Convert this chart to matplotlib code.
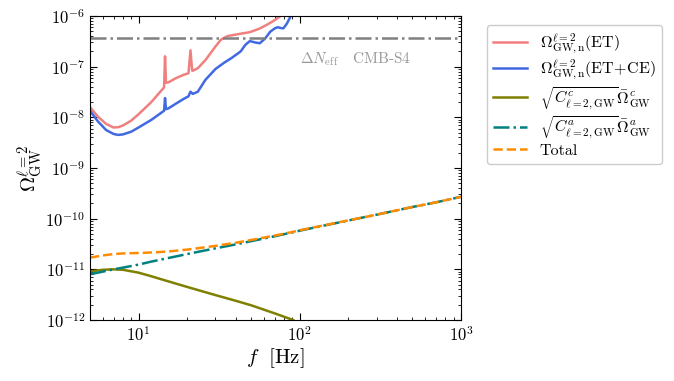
import matplotlib
matplotlib.use("Agg")
import matplotlib.pyplot as plt

plt.rcParams['font.family'] = ['cmr10', 'DejaVu Serif']
plt.rcParams['mathtext.fontset'] = 'cm'
plt.rcParams['axes.formatter.use_mathtext'] = True

# ET noise curve
f_et = [5, 5.6, 6.3, 7.0, 7.5, 8.0, 9.0, 10, 12, 14.4, 14.6, 14.8, 15.3, 17, 19, 20.4, 21.0, 21.5, 21.7, 23.3,
        26, 27.8, 30, 32.4, 35.5, 40, 49, 56, 62.5, 70, 76]
om_et = [1.6e-8, 1.03e-8, 7.4e-9, 6.3e-9, 6.4e-9, 6.9e-9, 8.6e-9, 1.15e-8, 2.0e-8, 3.9e-8, 1.6e-7, 4.8e-8, 4.9e-8,
         5.9e-8, 6.9e-8, 7.4e-8, 2.1e-7, 8.4e-8, 8.3e-8, 9.3e-8,
         1.35e-7, 1.8e-7, 2.5e-7, 3.4e-7, 4.0e-7, 4.3e-7, 4.8e-7, 5.6e-7, 6.7e-7, 8.3e-7, 1.0e-6]

# ET+CE noise curve
f_etce = [5, 5.6, 6.3, 7.0, 7.45, 8.0, 9.0, 10, 12, 14.4, 14.6, 14.8, 15.3, 17, 19, 20.4, 21.0, 21.7, 23.3,
          26, 30, 34, 37.6, 43, 46, 49, 53, 56.5, 61, 65.6, 70, 73, 76, 79, 83, 88]
om_etce = [1.35e-8, 8.3e-9, 5.6e-9, 4.7e-9, 4.5e-9, 4.6e-9, 5.2e-9, 6.3e-9, 8.9e-9, 1.35e-8, 2.4e-8, 1.45e-8, 1.5e-8,
           1.85e-8, 2.3e-8, 2.6e-8, 3.2e-8, 2.9e-8, 3.2e-8,
           5.5e-8, 9.0e-8, 1.2e-7, 1.47e-7, 2.0e-7, 2.7e-7, 3.2e-7, 3.0e-7, 2.9e-7, 3.6e-7, 4.9e-7, 5.7e-7, 6.0e-7,
           5.8e-7, 5.7e-7, 7.0e-7, 1.0e-6]

# signal components
f_sig = [5, 6, 7, 8, 10, 12, 15, 20, 30, 40, 50, 70, 91, 100, 200, 300, 500, 700, 1000]
om_c = [9.1e-12, 9.8e-12, 1.0e-11, 9.8e-12, 8.6e-12, 7.3e-12, 5.9e-12, 4.5e-12, 3.1e-12, 2.4e-12, 1.95e-12,
        1.35e-12, 1.0e-12, None, None, None, None, None, None]
om_a = [8.0e-12, 9.0e-12, 1.0e-11, 1.08e-11, 1.24e-11, 1.42e-11, 1.65e-11, 2.0e-11, 2.6e-11, 3.1e-11, 3.6e-11,
        4.5e-11, 5.4e-11, 5.8e-11, 9.2e-11, 1.2e-10, 1.7e-10, 2.1e-10, 2.7e-10]
om_tot = [1.7e-11, 1.88e-11, 2.0e-11, 2.06e-11, 2.1e-11, 2.15e-11, 2.24e-11, 2.45e-11, 2.9e-11, 3.34e-11, 3.8e-11,
          4.64e-11, 5.5e-11, 5.9e-11, 9.25e-11, 1.2e-10, 1.7e-10, 2.1e-10, 2.7e-10]

cmb_s4 = 3.7e-7

fig = plt.figure(figsize=(6.74, 3.81), dpi=100)
ax = fig.add_axes([90/674, 1-320/381, (461-90)/674, (320-16)/381])

ax.plot(f_et, om_et, color='#f08080', lw=1.8, label=r'$\Omega^{\ell=2}_{\rm GW,n}({\rm ET})$')
ax.plot(f_etce, om_etce, color='#4169e1', lw=1.8, label=r'$\Omega^{\ell=2}_{\rm GW,n}({\rm ET\!+\!CE})$')
fc = [f for f, v in zip(f_sig, om_c) if v is not None]
vc = [v for v in om_c if v is not None]
ax.plot(fc, vc, color='#808000', lw=1.8, label=r'$\sqrt{C^c_{\ell=2,{\rm GW}}}\bar{\Omega}^c_{\rm GW}$')
ax.plot(f_sig, om_a, color='#008080', lw=1.8, ls='-.', label=r'$\sqrt{C^a_{\ell=2,{\rm GW}}}\bar{\Omega}^a_{\rm GW}$')
ax.plot(f_sig, om_tot, color='#ff8c00', lw=1.8, ls='--', label='Total')
ax.axhline(cmb_s4, color='gray', lw=1.8, ls='-.')
ax.text(100, 1.4e-7, r'$\Delta N_{\rm eff}$   CMB-S4', color='#999999', fontsize=11, ha='left', va='center')

ax.set_xscale('log')
ax.set_yscale('log')
ax.set_xlim(5, 1000)
ax.set_ylim(1e-12, 1e-6)
ax.set_xlabel(r'$f\ \ [{\rm Hz}]$', fontsize=15, labelpad=2)
ax.set_ylabel(r'$\Omega^{\ell=2}_{\rm GW}$', fontsize=15, labelpad=0)
ax.tick_params(which='both', direction='in', top=True, right=True, labelsize=12)
ax.tick_params(which='major', length=5)
ax.tick_params(which='minor', length=2.5)

leg = ax.legend(loc='upper left', bbox_to_anchor=(487/674, 1-25/381), bbox_transform=fig.transFigure,
                borderaxespad=0, fontsize=11.5, handlelength=2.1, labelspacing=0.15, frameon=True, framealpha=1,
                edgecolor='#cccccc', fancybox=True)

fig.savefig('out.png', dpi=100)
